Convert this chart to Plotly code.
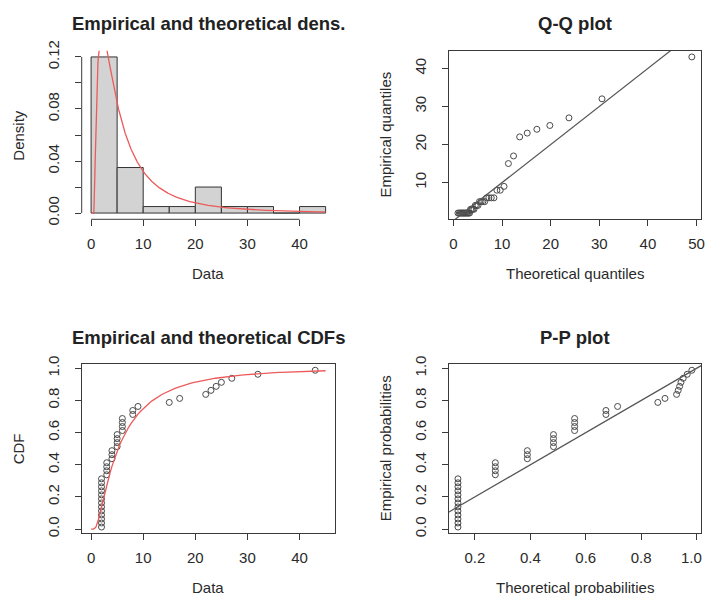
import math
import numpy as np
import pandas as pd
import plotly.graph_objects as go

# ---- observed sample (distinct values and how often each occurs) ----
obs_values = [2, 3, 4, 5, 6, 8, 9, 15, 17, 22, 23, 24, 25, 27, 32, 43]
obs_counts = [13, 4, 3, 4, 4, 2, 1, 1, 1, 1, 1, 1, 1, 1, 1, 1]

# ---- fitted distribution (shifted log-normal) ----
fit_shift = 0.469
fit_meanlog = 1.554
fit_sdlog = 1.039

# ---- histogram breaks and axis ticks ----
hist_breaks = [0, 5, 10, 15, 20, 25, 30, 35, 40, 45]
dens_xticks = [0, 10, 20, 30, 40]
dens_yticks = [0.00, 0.02, 0.04, 0.06, 0.08, 0.10, 0.12]
dens_ylabels = ["0.00", "", "0.04", "", "0.08", "", "0.12"]
qq_xticks = [0, 10, 20, 30, 40, 50]
qq_yticks = [10, 20, 30, 40]
cdf_xticks = [0, 10, 20, 30, 40]
prob_ticks = [0.0, 0.2, 0.4, 0.6, 0.8, 1.0]
prob_labels = ["0.0", "0.2", "0.4", "0.6", "0.8", "1.0"]
pp_xticks = [0.2, 0.4, 0.6, 0.8, 1.0]
pp_xlabels = ["0.2", "0.4", "0.6", "0.8", "1.0"]

titles = ["Empirical and theoretical dens.", "Q-Q plot",
          "Empirical and theoretical CDFs", "P-P plot"]
xtitles = ["Data", "Theoretical quantiles", "Data", "Theoretical probabilities"]
ytitles = ["Density", "Empirical quantiles", "CDF", "Empirical probabilities"]


# ---- distribution helpers ----
def pnorm(z):
    return 0.5 * (1.0 + math.erf(z / math.sqrt(2.0)))


def qnorm(p):
    lo, hi = -12.0, 12.0
    for _ in range(80):
        mid = 0.5 * (lo + hi)
        if pnorm(mid) < p:
            lo = mid
        else:
            hi = mid
    return 0.5 * (lo + hi)


def pdist(x):
    if x <= fit_shift:
        return 0.0
    return pnorm((math.log(x - fit_shift) - fit_meanlog) / fit_sdlog)


def ddist(x):
    if x <= fit_shift:
        return 0.0
    z = (math.log(x - fit_shift) - fit_meanlog) / fit_sdlog
    return math.exp(-0.5 * z * z) / math.sqrt(2 * math.pi) / ((x - fit_shift) * fit_sdlog)


def qdist(p):
    return fit_shift + math.exp(fit_meanlog + fit_sdlog * qnorm(p))


data = np.repeat(np.array(obs_values, dtype=float), obs_counts)
s = np.sort(data)
n = len(s)
pp = (np.arange(1, n + 1) - 0.5) / n          # ppoints(n)

# histogram (right-closed bins, like R)
cnt = pd.cut(pd.Series(data), bins=hist_breaks, right=True,
             include_lowest=True).value_counts(sort=False).values
bw = np.diff(hist_breaks)
density = cnt / (n * bw)
mids = (np.array(hist_breaks[:-1]) + np.array(hist_breaks[1:])) / 2

xgrid = np.linspace(hist_breaks[0], hist_breaks[-1], 1000)
dgrid = [ddist(v) for v in xgrid]
cgrid_x = np.linspace(hist_breaks[0], hist_breaks[-1], 101)
cgrid_y = [pdist(v) for v in cgrid_x]

theo_q = np.array([qdist(p) for p in pp])
theo_p = np.array([pdist(v) for v in s])


def pad(lo, hi):
    d = hi - lo
    return [lo - 0.04 * d, hi + 0.04 * d]


r1x = pad(hist_breaks[0], hist_breaks[-1]); r1y = pad(0, density.max())
r2x = pad(theo_q.min(), theo_q.max()); r2y = pad(s.min(), s.max())
r3x = pad(hist_breaks[0], hist_breaks[-1]); r3y = pad(pp.min(), pp.max())
r4x = pad(theo_p.min(), theo_p.max()); r4y = pad(pp.min(), pp.max())

# ---- layout geometry (pixels) ----
W, H = 705, 598
colL = (81.7, 335.0)
colR = (448.6, 701.2)
rowT = (50.7, 219.3)
rowB = (364.0, 533.3)


def px(x):
    return x / W


def py(y):
    return 1 - y / H


FONT = "Liberation Sans, Arial, Helvetica, sans-serif"
TXT = "#2a2a2a"
LINE = "#3a3a3a"
RED = "#ec5a5a"
PT = "#4a4a4a"

fig = go.Figure()
fig.add_trace(go.Bar(x=mids, y=density, width=bw, marker=dict(color="#d3d3d3",
              line=dict(color="#333333", width=1)), xaxis="x", yaxis="y",
              showlegend=False, hoverinfo="skip"))
fig.add_trace(go.Scatter(x=xgrid, y=dgrid, mode="lines", line=dict(color=RED, width=1.3),
                         xaxis="x", yaxis="y", showlegend=False))
fig.add_trace(go.Scatter(x=theo_q, y=s, mode="markers",
                         marker=dict(symbol="circle-open", size=6, color=PT, line=dict(width=1)),
                         xaxis="x2", yaxis="y2", showlegend=False))
fig.add_trace(go.Scatter(x=r2x, y=r2x, mode="lines", line=dict(color="#555555", width=1.2),
                         xaxis="x2", yaxis="y2", showlegend=False))
fig.add_trace(go.Scatter(x=s, y=pp, mode="markers",
                         marker=dict(symbol="circle-open", size=6, color=PT, line=dict(width=1)),
                         xaxis="x3", yaxis="y3", showlegend=False))
fig.add_trace(go.Scatter(x=cgrid_x, y=cgrid_y, mode="lines", line=dict(color=RED, width=1.3),
                         xaxis="x3", yaxis="y3", showlegend=False))
fig.add_trace(go.Scatter(x=theo_p, y=pp, mode="markers",
                         marker=dict(symbol="circle-open", size=6, color=PT, line=dict(width=1)),
                         xaxis="x4", yaxis="y4", showlegend=False))
fig.add_trace(go.Scatter(x=r4x, y=r4x, mode="lines", line=dict(color="#555555", width=1.2),
                         xaxis="x4", yaxis="y4", showlegend=False))

tickfont = dict(family=FONT, size=15, color=TXT)


def xax(dom, rng, tv, tt, anchor, box):
    return dict(domain=[px(dom[0]), px(dom[1])], range=rng, anchor=anchor,
                automargin=False, ticklabeloverflow="allow",
                tickmode="array", tickvals=tv, ticktext=tt, ticks="outside",
                ticklen=6, tickwidth=1, tickcolor=LINE, tickfont=tickfont,
                ticklabelstandoff=5, showgrid=False, zeroline=False,
                showline=box, mirror=box, linecolor=LINE, linewidth=1)


def yax(dom, rng, tv, tt, anchor, box):
    return dict(domain=[py(dom[1]), py(dom[0])], range=rng, anchor=anchor,
                automargin=False, ticklabeloverflow="allow",
                tickmode="array", tickvals=tv, ticktext=tt, ticks="outside",
                ticklen=6, tickwidth=1, tickcolor=LINE, tickfont=tickfont,
                tickangle=-90, ticklabelstandoff=10, showgrid=False, zeroline=False,
                showline=box, mirror=box, linecolor=LINE, linewidth=1)


# last P-P tick label sits at the page edge: draw it right-aligned instead
pp_axis_labels = pp_xlabels[:-1] + [""]

fig.update_layout(
    template="none",
    width=W, height=H, margin=dict(l=0, r=0, t=0, b=0, pad=0),
    paper_bgcolor="white", plot_bgcolor="white", bargap=0, showlegend=False,
    xaxis=xax(colL, r1x, dens_xticks, [str(v) for v in dens_xticks], "y", False),
    yaxis=yax(rowT, r1y, dens_yticks, dens_ylabels, "x", False),
    xaxis2=xax(colR, r2x, qq_xticks, [str(v) for v in qq_xticks], "y2", True),
    yaxis2=yax(rowT, r2y, qq_yticks, [str(v) for v in qq_yticks], "x2", True),
    xaxis3=xax(colL, r3x, cdf_xticks, [str(v) for v in cdf_xticks], "y3", True),
    yaxis3=yax(rowB, r3y, prob_ticks, prob_labels, "x3", True),
    xaxis4=xax(colR, r4x, pp_xticks, pp_axis_labels, "y4", True),
    yaxis4=yax(rowB, r4y, prob_ticks, prob_labels, "x4", True),
)

fig.add_annotation(text=pp_xlabels[-1], x=px(704), y=py(rowB[1] + 24),
                   xref="paper", yref="paper", showarrow=False, xanchor="right",
                   yanchor="middle", font=tickfont)

# axis lines of the histogram panel (spanning first..last tick, as in R)
fig.add_shape(type="line", xref="x", yref="y domain", x0=dens_xticks[0], x1=dens_xticks[-1],
              y0=0, y1=0, line=dict(color=LINE, width=1))
fig.add_shape(type="line", xref="x domain", yref="y", x0=0, x1=0,
              y0=dens_yticks[0], y1=dens_yticks[-1], line=dict(color=LINE, width=1))

panels = [(colL, rowT), (colR, rowT), (colL, rowB), (colR, rowB)]
for i, (cx, ry) in enumerate(panels):
    xc = (cx[0] + cx[1]) / 2
    fig.add_annotation(text="<b>%s</b>" % titles[i], x=px(xc), y=py(ry[0] - 27),
                       xref="paper", yref="paper", showarrow=False, xanchor="center",
                       yanchor="middle", font=dict(family=FONT, size=18.5, color="#222222"))
    fig.add_annotation(text=xtitles[i], x=px(xc), y=py(ry[1] + 54),
                       xref="paper", yref="paper", showarrow=False, xanchor="center",
                       yanchor="middle", font=dict(family=FONT, size=15, color=TXT))
    fig.add_annotation(text=ytitles[i], x=px(cx[0] - 63), y=py((ry[0] + ry[1]) / 2),
                       xref="paper", yref="paper", showarrow=False, xanchor="center",
                       yanchor="middle", textangle=-90,
                       font=dict(family=FONT, size=15, color=TXT))

fig.write_html(
    "out.html",
    config={"displayModeBar": False, "staticPlot": True},
    post_script="document.body.style.margin='0px';document.body.style.padding='0px';"
                "document.documentElement.style.overflow='hidden';",
)
